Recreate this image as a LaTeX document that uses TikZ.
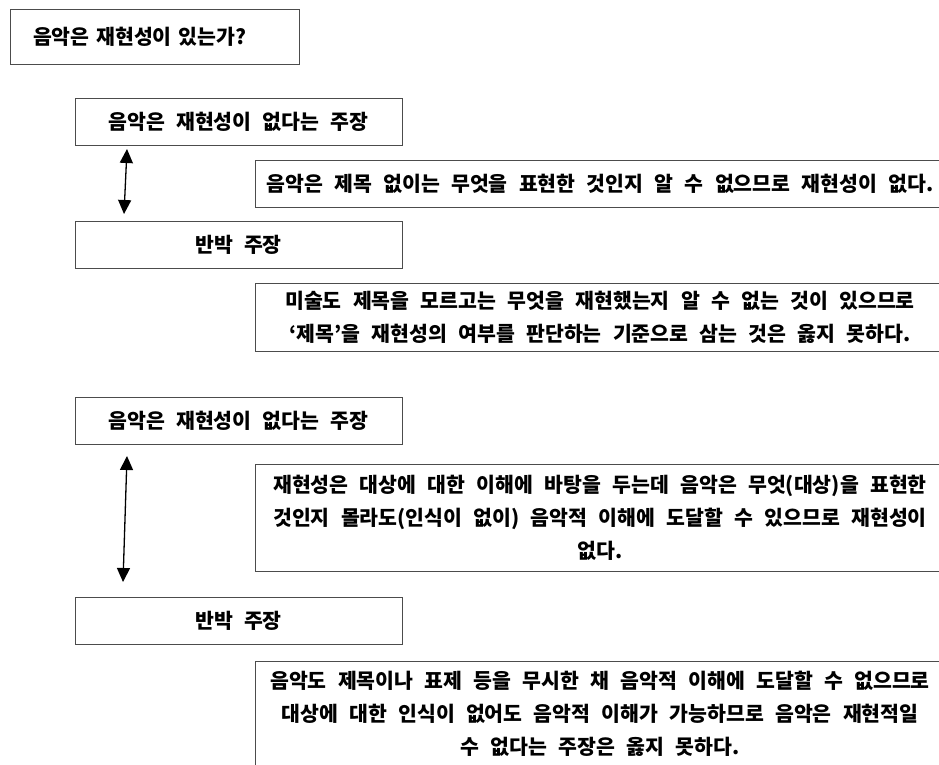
\documentclass[tikz,border=0pt]{standalone}
\usepackage{fontspec}
\newfontfamily\kr{Noto Sans CJK KR}[WordSpace=2.4]
\newcommand\krtext{\kr\bfseries\fontsize{20.5}{33}\selectfont}
\usetikzlibrary{arrows.meta}
\begin{document}
\begin{tikzpicture}[x=1pt,y=-1pt,
  box/.style={draw=black!70, line width=0.9pt, inner sep=0pt, anchor=center,
    font=\krtext, align=center},
  biarrow/.style={line width=1.3pt, {Triangle[width=13pt,length=14pt]}-{Triangle[width=13pt,length=14pt]}}]
\useasboundingbox (0,0) rectangle (939,764);
\fill[white] (0,0) rectangle (939,764);
% question
\node[box, minimum width=289pt, minimum height=55pt, text width=243pt, inner xsep=23pt, align=left] (q) at (154.5,36.5) {음악은 재현성이 있는가?};
% first pair
\node[box, minimum width=327pt, minimum height=47pt] (a1) at (238.5,121.5) {음악은 재현성이 없다는 주장};
\node[box, minimum width=690pt, minimum height=47pt] (b1) at (600,183.5) {음악은 제목 없이는 무엇을 표현한 것인지 알 수 없으므로 재현성이 없다.};
\node[box, minimum width=327pt, minimum height=47pt] (r1) at (238.5,244.5) {반박 주장};
\node[box, minimum width=690pt, minimum height=68pt] (c1) at (600,317) {미술도 제목을 모르고는 무엇을 재현했는지 알 수 없는 것이 있으므로\\‘제목’을 재현성의 여부를 판단하는 기준으로 삼는 것은 옳지 못하다.};
% second pair
\node[box, minimum width=327pt, minimum height=47pt] (a2) at (238.5,420.5) {음악은 재현성이 없다는 주장};
\node[box, minimum width=690pt, minimum height=107pt] (d1) at (600,517.5) {재현성은 대상에 대한 이해에 바탕을 두는데 음악은 무엇(대상)을 표현한\\것인지 몰라도(인식이 없이) 음악적 이해에 도달할 수 있으므로 재현성이\\없다.};
\node[box, minimum width=327pt, minimum height=47pt] (r2) at (238.5,621) {반박 주장};
\node[box, minimum width=690pt, minimum height=106pt] (e1) at (600,714) {음악도 제목이나 표제 등을 무시한 채 음악적 이해에 도달할 수 없으므로\\대상에 대한 인식이 없어도 음악적 이해가 가능하므로 음악은 재현적일\\수 없다는 주장은 옳지 못하다.};
% arrows
\coordinate (t1) at (127,149);
\coordinate (u1) at (124,214);
\coordinate (t2) at (127,456);
\coordinate (u2) at (123,582);
\draw[biarrow] (t1) -- (u1);
\draw[biarrow] (t2) -- (u2);
\end{tikzpicture}
\end{document}
